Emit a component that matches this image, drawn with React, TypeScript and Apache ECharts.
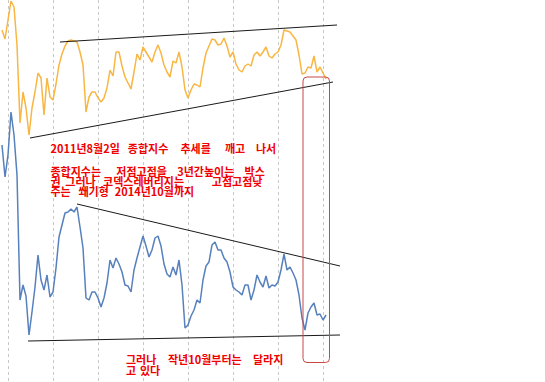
import React, { useEffect, useRef } from "react";
import * as echarts from "echarts";

// KOSPI composite (orange) and KODEX leverage (blue), relative chart levels
const kospi = [
  352, 343, 362, 381, 375, 337, 259, 290, 274, 247, 274, 290, 309, 304, 267, 304, 285, 282, 298, 317,
  328, 336, 341, 342, 341, 340, 330, 317, 270, 285, 290, 290, 284, 280, 284, 294, 312, 306, 330, 330,
  316, 305, 299, 293, 310, 328, 322, 335, 330, 325, 320, 330, 337, 329, 317, 310, 305, 321, 319, 330,
  315, 292, 284, 292, 298, 297, 295, 314, 329, 336, 343, 342, 337, 338, 344, 336, 325, 330, 318, 312,
  310, 316, 318, 316, 327, 330, 326, 330, 335, 326, 324, 328, 330, 337, 352, 351, 350, 346, 342, 327,
  308, 309, 315, 314, 326, 310, 315, 309, 303,
];
const kodexLev = [
  237, 205, 227, 270, 247, 207, 82, 97, 86, 47, 70, 95, 127, 102, 92, 107, 85, 90, 114, 145,
  157, 169, 170, 173, 170, 175, 155, 134, 84, 82, 90, 90, 84, 75, 84, 99, 122, 114, 124, 118,
  110, 97, 96, 90, 112, 124, 135, 146, 136, 125, 132, 144, 146, 136, 118, 108, 105, 115, 107, 122,
  97, 54, 57, 66, 72, 82, 79, 102, 116, 120, 137, 140, 132, 132, 124, 120, 110, 95, 92, 90,
  87, 97, 97, 82, 92, 107, 100, 95, 106, 94, 97, 96, 100, 112, 128, 112, 115, 109, 102, 87,
  64, 52, 69, 75, 79, 67, 68, 62, 67,
];
const periodCount = 114;
const categories = Array.from({ length: periodCount }, (_, i) => String(i));

// hand-drawn trend lines: [period, level]
const kospiUpper = [[19.33, 340], [111.67, 357]];
const kospiLower = [[9.33, 244], [110.33, 300]];
const levUpper = [[25, 178], [112.67, 116]];
const levLower = [[8.67, 41], [112.67, 47]];

const note1 = [
  ["2011년8월2일", 50.5], ["종합지수", 127.8], ["추세를", 180.5], ["깨고", 225], ["나서", 256],
];
const note2 = [
  ["종합지수는", 50.5], ["저점고점을", 116.3], ["3년간높이는", 177.2], ["박스", 244.6],
];
const note3 = [
  ["권", 50.5], ["그러나", 65.3], ["코덱스레버리지는", 103.1], ["고점고점낮", 211.8],
];
const note4 = [
  ["주는", 50.5], ["쐐기형", 78.5], ["2014년10월까지", 114.7],
];
const note5 = [
  ["그러나", 126], ["작년10월부터는", 168], ["달라지", 253],
];
const note6 = [
  ["고", 126], ["있다", 140],
];

const RED = "#f00000";
const FONT = "'Noto Sans CJK KR', sans-serif";

function words(list: (string | number)[][], y: number) {
  return list.map(([t, x]) => ({
    type: "text",
    x: x as number,
    y,
    z: 20,
    style: {
      text: t as string,
      fill: RED,
      font: `bold 11px ${FONT}`,
      lineHeight: 10,
      verticalAlign: "middle",
      align: "left",
    },
  }));
}

export default function App() {
  const ref = useRef<HTMLDivElement>(null);
  useEffect(() => {
    if (!ref.current) return;
    const chart = echarts.init(ref.current, undefined, { renderer: "svg" });
    const trend = (d: number[][]) => ({
      type: "line",
      xAxisIndex: 1,
      data: d,
      symbol: "none",
      silent: true,
      z: 5,
      lineStyle: { color: "#1a1a1a", width: 1 },
    });
    chart.setOption({
      animation: false,
      backgroundColor: "#ffffff",
      grid: { left: 2, right: 204, top: 0, bottom: 0 },
      xAxis: [
        {
          type: "category",
          data: categories,
          boundaryGap: false,
          axisLine: { show: false },
          axisTick: { show: false },
          axisLabel: { show: false },
          splitLine: {
            show: true,
            interval: (idx: number) => idx >= 2 && idx <= 107 && (idx - 2) % 15 === 0,
            lineStyle: { color: "#c8c8c8", type: [3, 3], width: 1 },
          },
        },
        { type: "value", min: 0, max: periodCount - 1, show: false },
      ],
      yAxis: { type: "value", min: 0, max: 382, show: false },
      series: [
        {
          type: "line",
          data: kospi,
          symbol: "none",
          silent: true,
          lineStyle: { color: "#f9b642", width: 1.5 },
        },
        {
          type: "line",
          data: kodexLev,
          symbol: "none",
          silent: true,
          lineStyle: { color: "#5681bd", width: 1.5 },
        },
        trend(kospiUpper),
        trend(kospiLower),
        trend(levUpper),
        trend(levLower),
      ],
      graphic: [
        ...words(note1, 148),
        ...words(note2, 171),
        ...words(note3, 181),
        ...words(note4, 191),
        ...words(note5, 359),
        ...words(note6, 369.5),
        {
          type: "rect",
          z: 20,
          shape: { x: 303, y: 77, width: 26.5, height: 285.5, r: 4 },
          style: { fill: "none", stroke: "#c84848", lineWidth: 1 },
        },
      ],
    });
    return () => chart.dispose();
  }, []);
  return (
    <div
      ref={ref}
      style={{ position: "fixed", left: 0, top: 0, width: 545, height: 382 }}
    />
  );
}
